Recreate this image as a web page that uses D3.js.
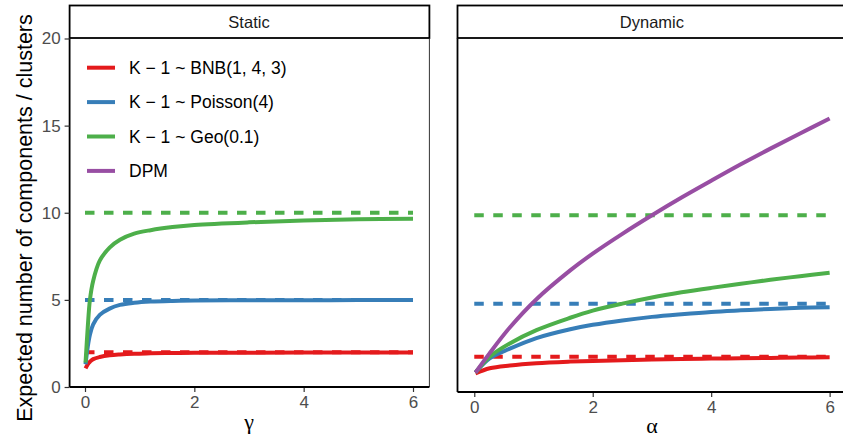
<!DOCTYPE html>
<html>
<head>
<meta charset="utf-8">
<script src="https://cdn.jsdelivr.net/npm/d3@7"></script>
<style>
  body { margin: 0; background: #fff; }
  text { font-family: "Liberation Sans", Arial, sans-serif; }
</style>
</head>
<body>
<script>
// values
var seriesNames = ["K \u2212 1 ~ BNB(1, 4, 3)", "K \u2212 1 ~ Poisson(4)", "K \u2212 1 ~ Geo(0.1)", "DPM"];
var seriesColors = ["#E41A1C", "#377EB8", "#4DAF4A", "#984EA3"];
var priorMeans = [2, 5, 10];
var xTicks = [0, 2, 4, 6];
var yTicks = [0, 5, 10, 15, 20];

// static panel, x = gamma
var gammaGrid = [0.01, 0.05, 0.09, 0.15, 0.27, 0.45, 0.64, 0.9, 1.2, 1.6, 2, 3, 4, 5, 6];
var staticBNB = [1.07, 1.3, 1.45, 1.6, 1.72, 1.82, 1.87, 1.91, 1.93, 1.95, 1.96, 1.97, 1.98, 1.98, 1.98];
var staticPois = [1.3, 2.3, 3.0, 3.6, 4.14, 4.5, 4.71, 4.83, 4.9, 4.94, 4.96, 4.98, 4.98, 4.99, 4.99];
var staticGeo = [1.4, 3.4, 5.0, 6.1, 7.25, 8.0, 8.45, 8.8, 9.0, 9.18, 9.3, 9.45, 9.55, 9.62, 9.66];

// dynamic panel, x = alpha
var alphaGrid = [0.02, 0.26, 0.6, 1.05, 1.62, 2, 2.5, 3, 3.5, 4, 4.5, 5, 5.5, 6];
var dynBNB = [1.05, 1.34, 1.5, 1.63, 1.72, 1.76, 1.8, 1.84, 1.87, 1.89, 1.91, 1.93, 1.95, 1.96];
var dynPois = [1.1, 1.9, 2.45, 3.05, 3.55, 3.8, 4.05, 4.25, 4.4, 4.53, 4.62, 4.7, 4.76, 4.8];
var dynGeo = [1.1, 2.0, 2.75, 3.5, 4.2, 4.6, 5.0, 5.35, 5.64, 5.89, 6.12, 6.35, 6.55, 6.75];
var dynDPM = [1.1, 2.2, 3.65, 5.25, 6.88, 7.83, 8.95, 10.0, 11.0, 11.95, 12.88, 13.77, 14.63, 15.47];

var svgWidth = 843;
var svgHeight = 439;

var svg = d3.select("body")
  .append("svg")
  .attr("width", svgWidth)
  .attr("height", svgHeight);

var panels = [
  { title: "Static", left: 68.6, right: 429.4, top: 38.5, bottom: 387, xlab: "\u03B3", xlabY: 429,
    grid: gammaGrid, curves: [staticBNB, staticPois, staticGeo], yLabels: true },
  { title: "Dynamic", left: 456.5, right: 847.4, top: 38.5, bottom: 392, xlab: "\u03B1", xlabY: 433,
    grid: alphaGrid, curves: [dynBNB, dynPois, dynGeo, dynDPM], yLabels: false }
];

panels.forEach(function (p) {
  var x = d3.scaleLinear().domain([-0.3, 6.3]).range([p.left, p.right]);
  var y = d3.scaleLinear().domain([0, 20]).range([p.bottom, p.top]);
  var g = svg.append("g");

  // strip
  g.append("rect")
    .attr("x", p.left + 1)
    .attr("y", 5.5)
    .attr("width", p.right - p.left - 1)
    .attr("height", 32.5)
    .attr("fill", "white")
    .attr("stroke", "black")
    .attr("stroke-width", 1.8);
  g.append("text")
    .attr("x", (p.left + p.right) / 2)
    .attr("y", 22)
    .attr("dy", "0.35em")
    .attr("text-anchor", "middle")
    .style("font-size", "16.5px")
    .attr("fill", "#1a1a1a")
    .text(p.title);

  // thin right border of the panel
  g.append("line")
    .attr("x1", p.right).attr("x2", p.right)
    .attr("y1", p.top).attr("y2", p.bottom)
    .attr("stroke", "#333")
    .attr("stroke-width", 1);

  // dashed prior means
  priorMeans.forEach(function (m, i) {
    g.append("line")
      .attr("x1", x(0)).attr("x2", x(6))
      .attr("y1", y(m)).attr("y2", y(m))
      .attr("stroke", seriesColors[i])
      .attr("stroke-width", 4)
      .attr("stroke-dasharray", "9.5,9.5");
  });

  // curves
  var line = d3.line()
    .x(function (d) { return x(d[0]); })
    .y(function (d) { return y(d[1]); })
    .curve(d3.curveCatmullRom.alpha(0.5));
  p.curves.forEach(function (vals, i) {
    var pts = p.grid.map(function (gx, j) { return [gx, vals[j]]; });
    g.append("path")
      .datum(pts)
      .attr("d", line)
      .attr("fill", "none")
      .attr("stroke", seriesColors[i])
      .attr("stroke-width", 4)
      .attr("stroke-linejoin", "round");
  });

  // x axis
  var xAxis = g.append("g")
    .attr("transform", "translate(0," + p.bottom + ")")
    .call(d3.axisBottom(x).tickValues(xTicks).tickSize(5).tickPadding(4).tickFormat(d3.format("d")));
  xAxis.select(".domain").remove();
  xAxis.selectAll(".tick line").attr("stroke", "#333").attr("stroke-width", 1.2);
  xAxis.selectAll(".tick text")
    .attr("fill", "#4D4D4D")
    .style("font-size", "17px")
    .style("font-family", "Liberation Sans, Arial, sans-serif");

  g.append("line")
    .attr("x1", p.left + 1).attr("x2", p.right)
    .attr("y1", p.bottom).attr("y2", p.bottom)
    .attr("stroke", "black")
    .attr("stroke-width", 1.8);
  g.append("line")
    .attr("x1", p.left + 1).attr("x2", p.left + 1)
    .attr("y1", p.top).attr("y2", p.bottom)
    .attr("stroke", "black")
    .attr("stroke-width", 1.8);

  if (p.yLabels) {
    var yAxis = g.append("g")
      .attr("transform", "translate(" + (p.left + 1) + ",0)")
      .call(d3.axisLeft(y).tickValues(yTicks).tickSize(5).tickPadding(4));
    yAxis.select(".domain").remove();
    yAxis.selectAll(".tick line").attr("stroke", "#333").attr("stroke-width", 1.2);
    yAxis.selectAll(".tick text")
      .attr("fill", "#4D4D4D")
      .style("font-size", "17px")
      .style("font-family", "Liberation Sans, Arial, sans-serif");
  }

  // x title
  g.append("text")
    .attr("x", (p.left + p.right) / 2)
    .attr("y", p.xlabY)
    .attr("text-anchor", "middle")
    .style("font-family", "Liberation Serif, serif")
    .style("font-size", "22px")
    .text(p.xlab);
});

// y title
svg.append("text")
  .attr("transform", "translate(32,218) rotate(-90)")
  .attr("text-anchor", "middle")
  .style("font-size", "21.5px")
  .text("Expected number of components / clusters");

// legend
var legend = svg.append("g");
seriesNames.forEach(function (name, i) {
  var ly = 67.7 + i * 34.4;
  legend.append("line")
    .attr("x1", 87).attr("x2", 115)
    .attr("y1", ly).attr("y2", ly)
    .attr("stroke", seriesColors[i])
    .attr("stroke-width", 4);
  legend.append("text")
    .attr("x", 129)
    .attr("y", ly)
    .attr("dy", "0.35em")
    .style("font-size", "17.5px")
    .text(name);
});
</script>
</body>
</html>
